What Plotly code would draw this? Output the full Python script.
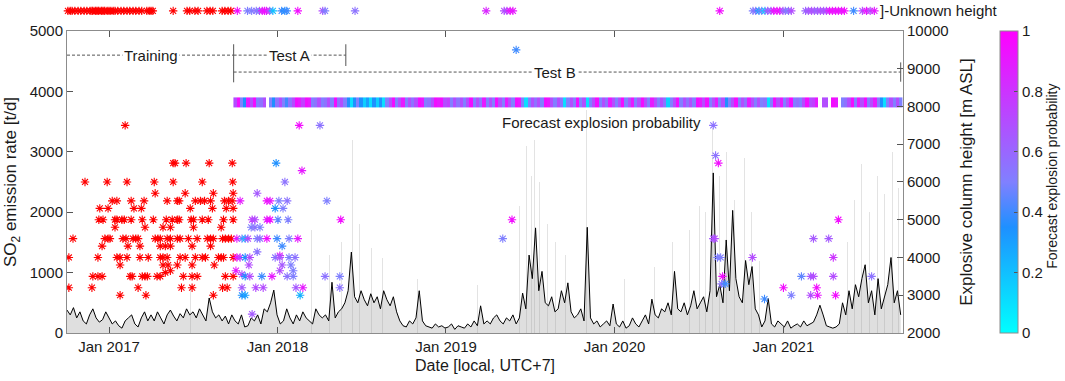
import plotly.graph_objects as go
import pandas as pd

# ---------------- data ----------------
# weekly SO2 emission rate [t/d] starting 2016-10-02
so2_start = "2016-10-02"
so2_values = [
    380, 300, 420, 250, 350, 200, 150, 300, 400, 250, 180, 220, 350,
    250, 150, 200, 120, 80, 200, 250, 300, 150, 100, 250, 350, 200,
    300, 200, 350, 250, 150, 300, 380, 280, 200, 320, 250, 400, 300,
    350, 250, 400, 300, 200, 580, 350, 250, 300, 200, 280, 150, 300,
    200, 150, 300, 100, 120, 250, 200, 300, 150, 400, 350, 500, 710,
    300, 150, 200, 400, 250, 150, 300, 200, 350, 250, 200, 150, 400,
    300, 250, 300, 200, 840, 250, 350, 400, 500, 700, 1340, 600, 500,
    700, 550, 450, 650, 500, 600, 400, 700, 550, 450, 600, 350, 200,
    120, 100, 200, 150, 250, 700, 200, 120, 100, 80, 150, 100, 120,
    80, 100, 150, 60, 120, 100, 80, 150, 100, 200, 120, 450, 150,
    200, 150, 250, 300, 200, 150, 250, 200, 300, 150, 250, 660, 400,
    1290, 900, 1740, 700, 1020, 500, 450, 600, 350, 400, 700, 500, 830,
    350, 250, 300, 400, 200, 1750, 250, 150, 200, 100, 150, 200, 120,
    480, 150, 100, 200, 80, 120, 250, 150, 100, 200, 300, 150, 560,
    300, 250, 400, 350, 500, 300, 1020, 400, 350, 500, 300, 450, 700,
    400, 500, 600, 350, 700, 2650, 600, 800, 500, 1540, 700, 2030, 900,
    600, 500, 1200, 800, 1100, 400, 300, 100, 200, 570, 150, 100, 200,
    150, 100, 200, 80, 120, 150, 100, 200, 120, 150, 180, 300, 460,
    300, 120, 100, 80, 100, 150, 500, 300, 700, 400, 800, 600, 900,
    1130, 500, 700, 300, 900, 400, 600, 800, 1250, 500, 700, 300,
]

# faint daily SO2 peaks [t/d]
spike_dates = [
    "2016-10-19", "2017-02-15", "2017-06-26", "2017-10-23", "2018-03-16",
    "2018-04-24", "2018-05-20", "2018-06-12", "2018-06-28", "2018-07-24",
    "2018-08-16", "2018-10-31", "2019-03-10", "2019-06-09", "2019-06-24",
    "2019-07-05", "2019-07-12", "2019-07-23", "2019-08-09", "2019-08-26",
    "2019-09-17", "2019-11-01", "2020-01-23", "2020-03-28", "2020-05-06",
    "2020-06-11", "2020-07-03", "2020-07-16", "2020-07-31", "2020-08-15",
    "2020-08-31", "2020-09-17", "2020-10-09", "2020-10-24", "2020-11-10",
    "2021-05-20", "2021-06-04", "2021-06-19", "2021-07-06", "2021-07-24",
    "2021-08-08", "2021-08-25", "2021-09-07",
]
spike_values = [
    900, 700, 800, 900, 1700,
    1300, 1500, 3200, 1800, 1400,
    1250, 900, 800, 2100, 3100,
    2600, 3200, 2500, 1800, 1500,
    1300, 3700, 900, 1100, 1500,
    1700, 2100, 2000, 3400, 2600,
    3000, 2200, 2900, 2000, 1200,
    1500, 2200, 2800, 2000, 2600,
    2300, 3000, 2400,
]

# training explosions (known height) [m ASL]
train_dates = [
    "2017-02-05",
    "2017-05-20", "2017-05-24", "2017-06-17", "2017-08-06", "2017-09-25",
    "2016-11-10", "2016-12-28", "2017-02-09", "2017-04-09", "2017-05-20", "2017-07-22", "2017-09-26",
    "2017-04-11", "2017-06-15", "2017-08-15", "2017-09-27",
    "2017-01-08", "2017-01-18", "2017-02-18", "2017-03-18", "2017-05-07", "2017-05-29", "2017-06-02",
    "2017-07-07", "2017-07-18", "2017-07-27", "2017-08-09", "2017-09-08", "2017-09-17", "2017-09-25",
    "2016-12-12", "2016-12-30", "2017-02-24", "2017-03-12", "2017-06-26", "2017-08-13", "2017-09-12", "2017-09-27",
    "2016-12-10", "2016-12-19", "2017-01-14", "2017-01-18", "2017-01-29", "2017-02-03", "2017-02-18",
    "2017-03-14", "2017-04-07", "2017-05-05", "2017-05-18", "2017-05-29", "2017-06-02", "2017-06-28",
    "2017-07-03", "2017-07-22", "2017-08-04", "2017-09-06", "2017-09-27",
    "2017-01-14", "2017-03-20", "2017-04-28", "2017-05-14", "2017-07-03", "2017-09-01",
    "2016-10-15", "2016-12-23", "2016-12-30", "2017-01-03", "2017-01-31", "2017-02-07", "2017-02-22",
    "2017-02-28", "2017-03-05", "2017-04-11", "2017-04-17", "2017-04-22", "2017-05-07", "2017-05-14",
    "2017-05-29", "2017-06-04", "2017-06-22", "2017-07-11", "2017-08-02", "2017-08-09", "2017-08-15",
    "2017-09-04", "2017-09-10", "2017-09-17", "2017-09-23",
    "2016-12-17", "2017-02-11", "2017-03-09", "2017-04-22", "2017-05-03", "2017-05-14", "2017-06-30", "2017-08-09",
    "2016-10-06", "2016-12-08", "2017-01-18", "2017-01-25", "2017-02-09", "2017-03-09", "2017-03-27",
    "2017-04-22", "2017-04-28", "2017-05-07", "2017-06-04", "2017-06-15", "2017-07-07", "2017-07-22",
    "2017-07-29", "2017-08-26", "2017-09-01", "2017-09-06", "2017-09-27",
    "2017-01-25", "2017-04-28", "2017-05-09", "2017-05-29", "2017-06-30", "2017-08-17",
    "2017-05-03", "2017-05-14",
    "2016-11-27", "2016-12-08", "2016-12-17", "2017-02-16", "2017-02-20", "2017-03-14", "2017-03-20",
    "2017-03-25", "2017-04-15", "2017-04-22", "2017-06-11", "2017-06-30", "2017-07-11", "2017-09-10", "2017-09-27",
    "2016-10-06", "2016-11-25", "2017-03-05", "2017-06-07", "2017-06-30", "2017-09-04", "2017-09-14",
    "2017-01-25", "2017-03-22", "2017-08-15",
]
train_heights = (
    [7500]
    + [6500] * 5
    + [6000] * 7
    + [5700] * 4
    + [5500] * 14
    + [5300] * 8
    + [5000] * 19
    + [4800] * 6
    + [4500] * 25
    + [4300] * 8
    + [4000] * 19
    + [3800] * 6
    + [3600, 3650]
    + [3500] * 15
    + [3200] * 7
    + [3000] * 3
)

# test explosions (known height) with forecast probability
test_dates = [
    "2018-02-17", "2018-04-03", "2017-12-29", "2018-02-23", "2018-01-17", "2017-11-18",
    "2017-10-12", "2017-12-09", "2017-12-16", "2018-01-04", "2018-01-22", "2018-04-18",
    "2017-12-27", "2018-01-13",
    "2017-11-07", "2017-11-13", "2017-12-09", "2017-12-16", "2018-01-02", "2018-01-24", "2018-05-18",
    "2017-11-05", "2017-11-13", "2017-11-24",
    "2017-10-05", "2017-10-16", "2017-10-23", "2017-10-29", "2017-11-18", "2017-11-24",
    "2017-12-09", "2017-12-31", "2018-01-26", "2018-02-14",
    "2018-01-11", "2017-11-18", "2018-01-06",
    "2017-10-05", "2017-10-12", "2017-10-23", "2017-11-02", "2017-12-27", "2018-01-06",
    "2018-01-26", "2018-02-08",
    "2017-10-31", "2018-01-11", "2018-01-30",
    "2017-10-03", "2018-01-06", "2018-02-04", "2017-10-16",
    "2017-10-23", "2017-11-02", "2017-11-28", "2017-12-20", "2018-01-22", "2018-02-04",
    "2018-04-14", "2018-05-16",
    "2017-10-16", "2017-11-15", "2017-12-01", "2018-02-10", "2018-02-25", "2018-05-16",
    "2017-10-16", "2017-10-23", "2018-02-19", "2017-11-07",
    "2019-05-04", "2019-05-24", "2019-06-02",
    "2020-08-02", "2020-08-07", "2020-08-13", "2020-08-02", "2020-08-05", "2020-08-11",
    "2020-08-18", "2020-08-22", "2020-08-20", "2020-08-28", "2020-10-26", "2020-11-21",
    "2021-01-01", "2021-01-18", "2021-02-09", "2021-03-01", "2021-03-07", "2021-03-01",
    "2021-03-07", "2021-03-14", "2021-03-16", "2021-04-09", "2021-04-19", "2021-04-19",
    "2021-04-24", "2021-04-30", "2021-07-11",
]
test_heights = [
    7500, 7500, 6500, 6300, 6000, 5700,
    5500, 5500, 5500, 5500, 5500, 5500,
    5300, 5300,
    5000, 5000, 5000, 5000, 5000, 5000, 5000,
    4800, 4800, 4800,
    4500, 4500, 4500, 4500, 4500, 4500,
    4500, 4500, 4500, 4500,
    4300, 4150, 4050,
    4000, 4000, 4000, 4000, 4000, 4000,
    4000, 4000,
    3800, 3800, 3800,
    3650, 3650, 3650, 3550,
    3500, 3500, 3500, 3500, 3500, 3500,
    3500, 3500,
    3200, 3200, 3200, 3200, 3200, 3200,
    3000, 3000, 3000, 2500,
    4500, 5000, 9500,
    7500, 6700, 6500, 4500, 4500, 4000,
    4000, 3500, 3300, 3300, 4000, 2900,
    3200, 3000, 3500, 3500, 3500, 3000,
    4500, 3200, 3000, 4500, 4000, 3500,
    3000, 5000, 3500,
]
test_probs = [
    0.95, 0.55, 0.35, 0.9, 0.55, 0.65,
    0.9, 0.95, 0.9, 0.5, 0.55, 0.5,
    0.35, 0.5,
    0.75, 0.7, 0.9, 0.95, 0.45, 0.5, 0.95,
    0.5, 0.55, 0.5,
    0.9, 0.5, 0.2, 0.7, 0.5, 0.55,
    0.95, 0.4, 0.5, 0.9,
    0.4, 0.55, 0.9,
    0.95, 0.75, 0.35, 0.7, 0.55, 0.65,
    0.5, 0.55,
    0.7, 0.65, 0.5,
    0.9, 0.7, 0.5, 0.7,
    0.35, 0.7, 0.4, 0.9, 0.55, 0.5,
    0.55, 0.5,
    0.65, 0.7, 0.7, 0.65, 0.9, 0.55,
    0.35, 0.3, 0.25, 0.65,
    0.5, 0.95, 0.4,
    0.55, 0.55, 0.95, 0.65, 0.7, 0.5,
    0.5, 0.95, 0.55, 0.4, 0.7, 0.4,
    0.95, 0.5, 0.45, 0.65, 0.7, 0.7,
    0.65, 0.95, 0.9, 0.65, 0.8, 0.7,
    0.95, 0.95, 0.55,
]

# explosions of unknown height
unk_train_dates = [
    "2016-10-04", "2016-10-09", "2016-10-13", "2016-10-19", "2016-10-26", "2016-11-01",
    "2016-11-08", "2016-11-14", "2016-11-21", "2016-11-25", "2016-11-27", "2016-12-02",
    "2016-12-04", "2016-12-08", "2016-12-10", "2016-12-15", "2016-12-17", "2016-12-21",
    "2016-12-23", "2016-12-28", "2017-01-01", "2017-01-05", "2017-01-10", "2017-01-14",
    "2017-01-20", "2017-01-27", "2017-02-02", "2017-02-09", "2017-02-15", "2017-02-22",
    "2017-02-28", "2017-03-07", "2017-03-13", "2017-03-24", "2017-03-29", "2017-04-02",
    "2017-04-06", "2017-05-20", "2017-06-19", "2017-06-25", "2017-07-06", "2017-07-13",
    "2017-08-01", "2017-08-08", "2017-08-14", "2017-09-03", "2017-09-09", "2017-09-16",
    "2017-09-22",
]
unk_test_dates = [
    "2017-10-06", "2017-10-28", "2017-11-06", "2017-11-16", "2017-11-23", "2017-11-29",
    "2017-12-04", "2017-12-08", "2017-12-15", "2017-12-22", "2018-01-10", "2018-01-17",
    "2018-01-21", "2018-02-14", "2018-04-09", "2018-04-14", "2018-06-18",
    "2019-03-29", "2019-05-07", "2019-05-13", "2019-05-20", "2019-05-26",
    "2020-08-16", "2020-10-27", "2020-11-02", "2020-11-09", "2020-11-15", "2020-11-22",
    "2020-11-28", "2020-12-05", "2020-12-11", "2020-12-18", "2020-12-24", "2020-12-31",
    "2021-01-05", "2021-01-12", "2021-01-18",
    "2021-02-18", "2021-02-24", "2021-03-03", "2021-03-09", "2021-03-16", "2021-03-22",
    "2021-03-29", "2021-04-04", "2021-04-11", "2021-04-17", "2021-04-24", "2021-04-30",
    "2021-05-07", "2021-05-13",
    "2021-06-02", "2021-06-21", "2021-06-30", "2021-07-08", "2021-07-17",
]
unk_test_probs = [
    0.95, 0.5, 0.5, 0.55, 0.5, 0.95,
    0.9, 0.95, 0.7, 0.2, 0.4, 0.35,
    0.4, 0.95, 0.7, 0.5, 0.55,
    0.85, 0.7, 0.7, 0.95, 0.9,
    0.95, 0.5, 0.55, 0.3, 0.5, 0.15,
    0.7, 0.55, 0.95, 0.9, 0.95, 0.7,
    0.55, 0.5, 0.7,
    0.6, 0.65, 0.7, 0.65, 0.6, 0.7,
    0.65, 0.7, 0.9, 0.95, 0.9, 0.95,
    0.9, 0.95,
    0.4, 0.7, 0.95, 0.7, 0.9,
]

# weekly forecast explosion probability (None = no forecast)
prob_start = "2017-10-01"
prob_values = [
    0.7, 0.95, 0.5, 0.35, 0.9, 0.7, 0.95, 0.5, 0.55, 0.7,
    None,
    0.5, 0.35, 0.55, 0.7, 0.5, 0.4, 0.55, 0.7, 0.95, 0.9,
    0.75, 0.95, 0.9, 0.5, 0.55, 0.7, 0.5, 0.55, 0.7, 0.5,
    0.95, 0.55, 0.7, 0.5, 0.35, 0.1, 0.35, 0.5, 0.35, 0.15,
    0.3, 0.1, 0.35, 0.15, 0.35, 0.1, 0.5, 0.7, 0.95, 0.5,
    0.7, 0.9, 0.5, 0.7, 0.55, 0.7, 0.95, 0.9, 0.5, 0.55,
    0.7, 0.95, 0.9, 0.95, 0.7, 0.75, 0.5, 0.7, 0.55, 0.7,
    0.5, 0.7, 0.95, 0.5, 0.7, 0.55, 0.9, 0.5, 0.7, 0.5,
    0.95, 0.7, 0.5, 0.9, 0.7, 0.5, 0.95, 0.9, 0.5, 0.1,
    0.5, 0.7, 0.55, 0.7, 0.5, 0.95, 0.9, 0.7, 0.5, 0.7, 0.55, 0.1, 0.5,
    0.7, 0.5, 0.95, 0.5, 0.7, 0.1, 0.5, 0.7, 0.95, 0.5,
    0.7, 0.55, 0.9, 0.7, 0.5, 0.7, 0.95, 0.5, 0.7, 0.9,
    0.5, 0.7, 0.95, 0.7, 0.5, 0.9, 0.7, 0.5, 0.7, 0.55,
    0.15, 0.5, 0.7, 0.95, 0.5, 0.7, 0.55, 0.7, 0.5, 0.95,
    0.9, 0.7, 0.95, 0.5, 0.7, 0.9, 0.5, 0.7, 0.35, 0.5,
    0.7, 0.95, 0.5, 0.7, 0.55, 0.9, 0.7, 0.5, 0.7, 0.5,
    0.55, 0.1, 0.5, 0.95, 0.7, 0.9, 0.5, 0.7, 0.95, 0.5,
    0.55, 0.5, 0.7, 0.95, 0.7, 0.75, 0.9, None, 0.7, 0.7,
    None, 0.95, 0.9, None, 0.5, 0.55, 0.7, 0.95, 0.5, 0.9,
    0.7, 0.95, 0.5, 0.7, 0.9, 0.5, 0.35, 0.1, 0.5, 0.7, 0.5, 0.7, 0.5,
]

# period boundaries
x_start, x_end = "2016-10-02", "2021-09-17"
train_end = "2017-09-28"
testA_end = "2018-05-29"
testB_end = "2021-09-12"

# ---------------- figure ----------------
FONT = "Liberation Sans, Arial, sans-serif"
TXT = "#1a1a1a"
AX = "#8c8c8c"
cscale = [[0, "rgb(0,255,255)"], [0.35, "rgb(30,144,255)"],
          [0.5, "rgb(128,128,255)"], [1, "rgb(255,0,255)"]]

so2_dates = pd.date_range(so2_start, periods=len(so2_values), freq="7D")
prob_dates = pd.date_range(prob_start, periods=len(prob_values), freq="7D")

MAIN_TOP = 0.907
ROW_Y = 0.59

fig = go.Figure()

fig.add_trace(go.Bar(x=spike_dates, y=spike_values, width=1.2 * 86400000,
                     marker=dict(color="rgba(175,175,175,0.35)", line=dict(width=0)),
                     hoverinfo="skip", xaxis="x", yaxis="y"))
fig.add_trace(go.Scatter(x=so2_dates, y=so2_values, mode="lines",
                         line=dict(color="black", width=1),
                         fill="tozeroy", fillcolor="rgba(150,150,150,0.3)",
                         xaxis="x", yaxis="y"))
fig.add_trace(go.Heatmap(x=prob_dates, y=[3730, 3900], z=[prob_values],
                         coloraxis="coloraxis", hoverinfo="skip",
                         xaxis="x", yaxis="y"))

mk = dict(symbol="asterisk-open", size=7)
fig.add_trace(go.Scatter(x=train_dates, y=train_heights, mode="markers",
                         marker=dict(**mk, color="red", line=dict(width=1.1, color="red")),
                         xaxis="x", yaxis="y2"))
fig.add_trace(go.Scatter(x=test_dates, y=test_heights, mode="markers",
                         marker=dict(**mk, color=test_probs, coloraxis="coloraxis",
                                     line=dict(width=1.1)),
                         xaxis="x", yaxis="y2"))

fig.add_trace(go.Scatter(x=unk_train_dates, y=[ROW_Y] * len(unk_train_dates), mode="markers",
                         marker=dict(**mk, color="red", line=dict(width=1.1, color="red")),
                         cliponaxis=False, xaxis="x", yaxis="y3"))
fig.add_trace(go.Scatter(x=unk_test_dates, y=[ROW_Y] * len(unk_test_dates), mode="markers",
                         marker=dict(**mk, color=unk_test_probs, coloraxis="coloraxis",
                                     line=dict(width=1.1)),
                         cliponaxis=False, xaxis="x", yaxis="y3"))

# period lines
dash = dict(color="#555555", width=1, dash="3px,2px")
solid = dict(color="#555555", width=1)
shapes = [
    dict(type="line", xref="x", yref="y", x0=x_start, x1=train_end, y0=4600, y1=4600, line=dash),
    dict(type="line", xref="x", yref="y", x0=train_end, x1=testA_end, y0=4600, y1=4600, line=dash),
    dict(type="line", xref="x", yref="y", x0=train_end, x1=testB_end, y0=4320, y1=4320, line=dash),
    dict(type="line", xref="x", yref="y", x0=train_end, x1=train_end, y0=4150, y1=4780, line=solid),
    dict(type="line", xref="x", yref="y", x0=testA_end, x1=testA_end, y0=4420, y1=4780, line=solid),
    dict(type="line", xref="x", yref="y", x0=testB_end, x1=testB_end, y0=4160, y1=4480, line=solid),
]

ann_font = dict(family=FONT, size=15, color=TXT)
annotations = [
    dict(x="2017-04-02", y=4600, xref="x", yref="y", text="Training", showarrow=False,
         bgcolor="white", borderpad=1, font=ann_font),
    dict(x="2018-01-28", y=4600, xref="x", yref="y", text="Test A", showarrow=False,
         bgcolor="white", borderpad=1, font=ann_font),
    dict(x="2019-08-26", y=4320, xref="x", yref="y", text="Test B", showarrow=False,
         bgcolor="white", borderpad=1, font=ann_font),
    dict(x="2019-12-04", y=3480, xref="x", yref="y", text="Forecast explosion probability",
         showarrow=False, font=ann_font),
    dict(x="2021-07-24", y=ROW_Y, xref="x", yref="y3", text="]-Unknown height", showarrow=False,
         xanchor="left", font=ann_font),
    dict(x=0.5, y=-0.099, xref="paper", yref="paper", text="Date [local, UTC+7]",
         showarrow=False, xanchor="center", yanchor="middle",
         font=dict(family=FONT, size=16, color=TXT)),
    dict(x=1.179, y=0.471, xref="paper", yref="paper", text="Forecast explosion probability",
         showarrow=False, textangle=-90, xanchor="center", yanchor="middle",
         font=dict(family=FONT, size=14, color=TXT)),
]

fig.update_layout(
    width=1065, height=381,
    margin=dict(l=67, r=162, t=0, b=48),
    paper_bgcolor="white", plot_bgcolor="white",
    showlegend=False,
    font=dict(family=FONT, size=15, color=TXT),
    xaxis=dict(type="date", range=[x_start, x_end], tick0="2017-01-01", dtick="M12",
               tickformat="%b %Y", ticks="inside", ticklen=6, tickcolor="#555",
               showline=True, linecolor=AX, mirror="ticks", showgrid=False, zeroline=False,
               tickfont=dict(size=15), automargin=False),
    yaxis=dict(domain=[0, MAIN_TOP], range=[0, 5000], tickvals=[0, 1000, 2000, 3000, 4000, 5000],
               ticks="inside", ticklen=6, tickcolor="#555", showline=True, linecolor=AX,
               showgrid=False, zeroline=False, tickfont=dict(size=15), automargin=False,
               title=dict(text="SO<sub>2</sub> emission rate [t/d]", font=dict(size=17),
                          standoff=8)),
    yaxis2=dict(overlaying="y", side="right", anchor="x", range=[2000, 10000],
                tickvals=[2000, 3000, 4000, 5000, 6000, 7000, 8000, 9000, 10000],
                tickformat="d",
                ticks="inside", ticklen=6, tickcolor="#555", showline=True, linecolor=AX,
                showgrid=False, zeroline=False, tickfont=dict(size=15), automargin=False,
                title=dict(text="Explosive column height [m ASL]", font=dict(size=17),
                           standoff=12)),
    yaxis3=dict(domain=[0.92, 1.0], range=[0, 1], anchor="x", visible=False),
    coloraxis=dict(colorscale=cscale, cmin=0, cmax=1,
                   colorbar=dict(x=1.116, xanchor="left", y=0, yanchor="bottom",
                                 len=MAIN_TOP, lenmode="fraction", thickness=18,
                                 xpad=0, ypad=0,
                                 outlinewidth=1, outlinecolor=AX,
                                 tickvals=[0, 0.2, 0.4, 0.6, 0.8, 1],
                                 ticktext=["0", "0.2", "0.4", "0.6", "0.8", "1"],
                                 ticks="inside", ticklen=4, tickcolor="#555",
                                 tickfont=dict(size=15))),
    shapes=shapes,
    annotations=annotations,
    bargap=0,
)

# remove the browser's default 8 px body margin so the figure fills the window
fig.write_html("out.html", config={"displayModeBar": False},
               post_script="document.body.style.margin='0';")
